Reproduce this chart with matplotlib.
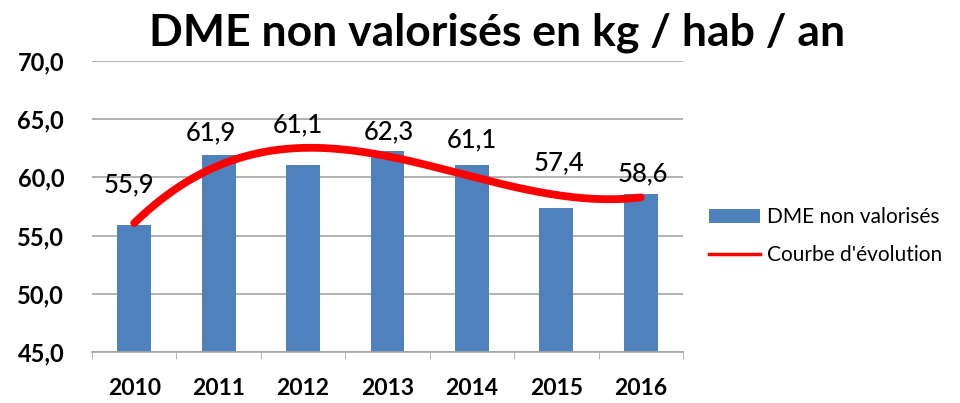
import numpy as np
import matplotlib
matplotlib.use("Agg")
import matplotlib.pyplot as plt
from matplotlib.lines import Line2D
from matplotlib.patches import Patch

plt.rcParams['font.family'] = ['Lato', 'DejaVu Sans']

# data
years = ['2010', '2011', '2012', '2013', '2014', '2015', '2016']
dme = [55.9, 61.9, 61.1, 62.3, 61.1, 57.4, 58.6]
labels = ['55,9', '61,9', '61,1', '62,3', '61,1', '57,4', '58,6']
yticks = [45, 50, 55, 60, 65, 70]
ytick_labels = ['45,0', '50,0', '55,0', '60,0', '65,0', '70,0']

# label placement (pixels above bar top, x shift) as in the original
lab_dy = [40, 23, 40, 19, 25, 45, 20]
lab_dx = [-5, -8, -5, 1, 0, 3, 2]

bar_color = '#4F81BD'
grid_color = '#A6A6A6'

fig = plt.figure(figsize=(9.6, 4.03), dpi=100)
ax = fig.add_axes([92 / 960, 51 / 403, 591 / 960, 291 / 403])

x = np.arange(len(years))
ax.bar(x, dme, width=0.4, color=bar_color, zorder=2, label='DME non valorisés')

# polynomial trendline (order 3), like the Excel "courbe d'évolution"
coef = np.polyfit(x, dme, 3)
xs = np.linspace(0, len(years) - 1, 200)
ax.plot(xs, np.polyval(coef, xs), color='#FF0000', lw=5.6,
        solid_capstyle='round', zorder=3)

px = 72 / 100
for i, v in enumerate(dme):
    ax.annotate(labels[i], (x[i], v), xytext=(lab_dx[i] * px, lab_dy[i] * px),
                textcoords='offset points', ha='center', va='center',
                fontsize=18.5, fontweight='medium', color='black', zorder=4)

ax.set_xlim(-0.5, len(years) - 0.5)
ax.set_ylim(45, 70)
ax.set_yticks(yticks)
ax.set_yticklabels(ytick_labels, fontsize=17, fontweight='bold')
ax.set_xticks(x)
ax.set_xticklabels(years, fontsize=16.5, fontweight='bold')
ax.set_xticks(np.arange(-0.5, len(years)), minor=True)
ax.tick_params(axis='x', which='major', length=0, pad=19)
ax.tick_params(axis='x', which='minor', length=5, color=grid_color, direction='out')
ax.tick_params(axis='y', length=0, pad=20)
ax.yaxis.grid(True, color=grid_color, lw=1.2, zorder=0)
ax.set_axisbelow(True)
for s in ['top', 'right', 'left']:
    ax.spines[s].set_visible(False)
ax.spines['bottom'].set_color(grid_color)
ax.spines['bottom'].set_linewidth(1.2)

fig.text(0.518, 1 - 33 / 403, 'DME non valorisés en kg / hab / an', ha='center',
         va='center', fontsize=32, fontweight='bold')

handles = [Patch(facecolor=bar_color, edgecolor='none'),
           Line2D([0], [0], color='#FF0000', lw=2.5)]
fig.legend(handles, ['DME non valorisés', "Courbe d'évolution"],
           loc='center left', bbox_to_anchor=(709 / 960, 1 - 236 / 403),
           frameon=False, fontsize=15, handlelength=2.45, handleheight=0.63,
           labelspacing=0.85, handletextpad=0.35, borderpad=0, borderaxespad=0)

fig.savefig('out.png', dpi=100)
